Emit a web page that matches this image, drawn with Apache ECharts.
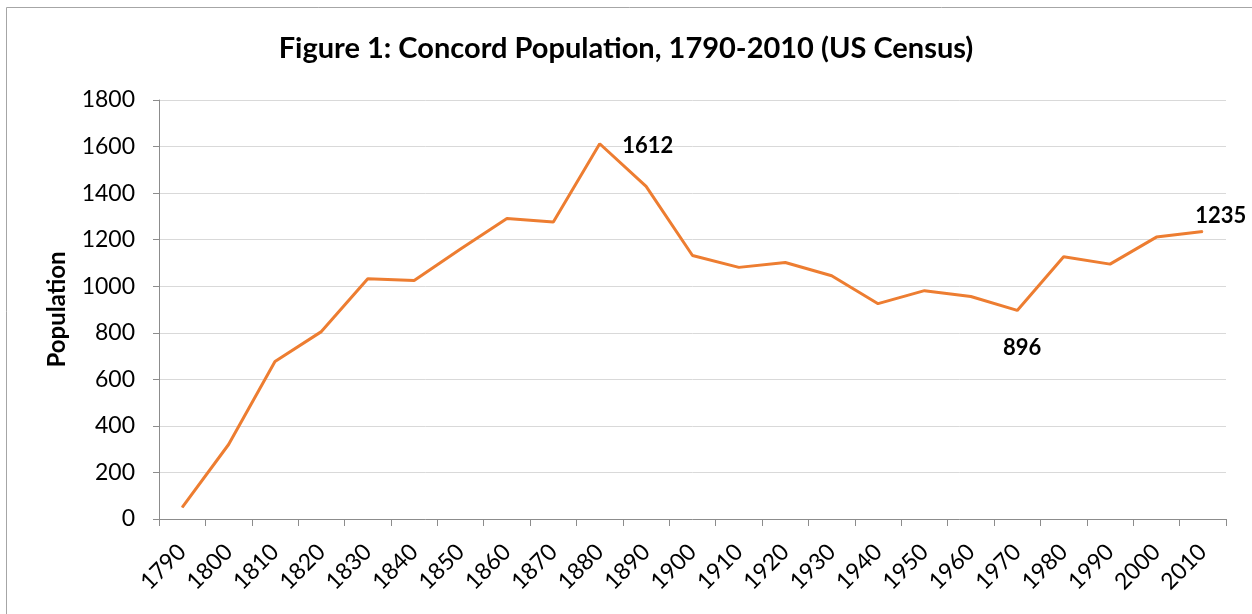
<!DOCTYPE html>
<html>
<head>
<meta charset="utf-8">
<script src="https://cdn.jsdelivr.net/npm/echarts@6/dist/echarts.min.js"></script>
<style>
html,body{margin:0;padding:0;background:#fff;}
#chart{width:1252px;height:614px;}
</style>
</head>
<body>
<div id="chart"></div>
<script>
const years = ['1790','1800','1810','1820','1830','1840','1850','1860','1870','1880','1890','1900','1910','1920','1930','1940','1950','1960','1970','1980','1990','2000','2010'];
const population = [50,320,677,805,1032,1025,1160,1291,1276,1612,1429,1132,1081,1102,1045,925,981,956,896,1127,1095,1211,1235];
const yTicks = {min:0, max:1800, interval:200};
const titleText = 'Figure 1: Concord Population, 1790-2010 (US Census)';
const yAxisName = 'Population';
const labelled = {'1880':{position:'right',distance:22,offset:[0,2]}, '1970':{position:'bottom',distance:26,offset:[5,0]}, '2010':{position:'top',distance:4,offset:[18,0]}};

const FONT = 'Lato';
const data = population.map((v,i)=>{
  const lab = labelled[years[i]];
  if(!lab) return v;
  return {value:v, label:Object.assign({show:true, fontFamily:FONT, fontWeight:'bold', fontSize:22, color:'#000'}, lab)};
});

const chart = echarts.init(document.getElementById('chart'), null, {renderer:'canvas'});
chart.setOption({
  animation:false,
  backgroundColor:'#fff',
  graphic:[{type:'rect', shape:{x:6.5,y:7.5,width:1260,height:620}, style:{fill:'none', stroke:'#a6a6a6', lineWidth:1}, silent:true}],
  title:{text:titleText, left:'center', top:29, textStyle:{fontFamily:FONT, fontWeight:'bold', fontSize:29, color:'#000'}},
  grid:{left:159, right:26, top:100, bottom:95, containLabel:false},
  xAxis:{type:'category', data:years, boundaryGap:true,
    axisLine:{lineStyle:{color:'#8c8c8c', width:1}},
    axisTick:{show:true, interval:0, length:7, lineStyle:{color:'#8c8c8c'}},
    axisLabel:{interval:0, rotate:45, margin:29, fontFamily:FONT, fontSize:23, color:'#000'},
    splitLine:{show:false}},
  yAxis:{type:'value', min:yTicks.min, max:yTicks.max, interval:yTicks.interval,
    name:yAxisName, nameLocation:'middle', nameGap:90, nameRotate:90,
    nameTextStyle:{fontFamily:FONT, fontWeight:'bold', fontSize:24, color:'#000'},
    axisLine:{show:true, lineStyle:{color:'#8c8c8c', width:1}},
    axisTick:{show:true, length:6, lineStyle:{color:'#8c8c8c'}},
    axisLabel:{margin:24, fontFamily:FONT, fontSize:23, color:'#000', formatter:(v)=>String(v)},
    splitLine:{show:true, lineStyle:{color:'#d9d9d9', width:1}}},
  series:[{type:'line', data:data, symbol:'circle', symbolSize:1, showSymbol:true,
    itemStyle:{color:'#ED7D31'}, lineStyle:{color:'#ED7D31', width:3}, label:{show:false}}]
});
</script>
</body>
</html>
